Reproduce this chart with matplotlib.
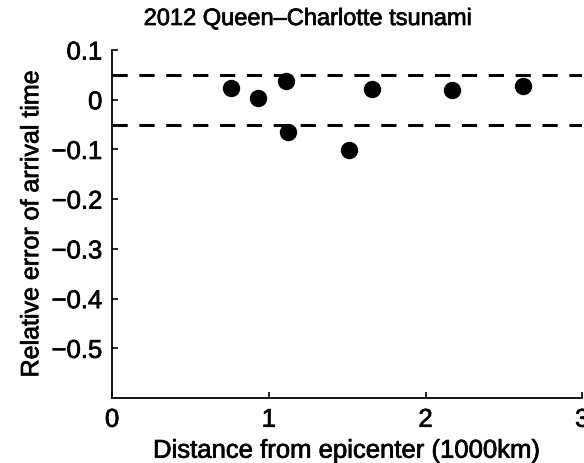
import numpy as np
import matplotlib.pyplot as plt
import matplotlib.patheffects as pe

# distance from epicenter (1000 km) and relative error of arrival time
dist = [0.76, 0.93, 1.11, 1.12, 1.51, 1.66, 2.17, 2.62]
rel_err = [0.024, 0.004, 0.037, -0.064, -0.101, 0.021, 0.019, 0.027]
bounds = [0.05, -0.05]

plt.rcParams['font.family'] = ['Liberation Sans', 'DejaVu Sans']

fig = plt.figure(figsize=(5.84, 4.64), dpi=100)
ax = fig.add_axes([0.192, 0.140, 0.805, 0.750])

for b in bounds:
    ax.axhline(b, color='k', linestyle=(0, (5.1, 3.9)), linewidth=2.15)
ax.plot(dist, rel_err, 'ko', markersize=11.5)

ax.set_xlim(0, 3)
ax.set_ylim(-0.6, 0.1)
ax.set_xticks([0, 1, 2, 3])
ax.set_xticklabels(['0', '1', '2', '3'])
yt = [0.1, 0, -0.1, -0.2, -0.3, -0.4, -0.5]
ax.set_yticks(yt)
ax.set_yticklabels(['0.1', '0', '\u22120.1', '\u22120.2', '\u22120.3', '\u22120.4', '\u22120.5'])

for s in ['top', 'right']:
    ax.spines[s].set_visible(False)
for s in ['left', 'bottom']:
    ax.spines[s].set_linewidth(1.3)
ax.tick_params(direction='in', length=4, width=1.2, labelsize=18.5, pad=7)

# slightly heavier text strokes
heavy = [pe.withStroke(linewidth=0.5, foreground='k')]

title = fig.text(308 / 584, 1 - 20 / 464, '2012 Queen\u2013Charlotte tsunami', fontsize=17,
                 ha='center', va='center')
xl = ax.set_xlabel('Distance from epicenter (1000km)', fontsize=18.5, labelpad=5)
yl = ax.set_ylabel('Relative error of arrival time', fontsize=18, labelpad=6)
for t in [title, xl, yl] + ax.get_xticklabels() + ax.get_yticklabels():
    t.set_path_effects(heavy)

fig.savefig('out.png', dpi=100)
